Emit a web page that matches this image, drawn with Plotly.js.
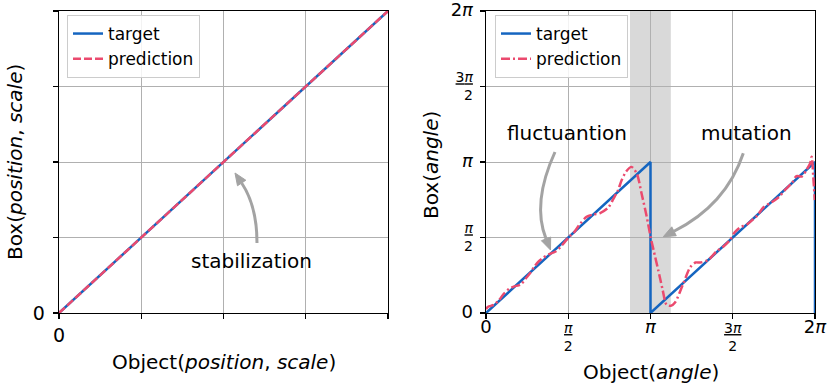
<!DOCTYPE html>
<html><head><meta charset="utf-8">
<script src="https://cdn.plot.ly/plotly-3.0.1.min.js"></script>
<style>html,body{margin:0;padding:0;background:#fff;} #chart{width:829px;height:386px;}</style>
</head><body><div id="chart"></div>
<script>
// ---------------- data ----------------
const seriesNames = ['target', 'prediction'];
// left panel: position / scale (normalized)
const posX = [0, 1];
const posTarget = [0, 1];
const posPrediction = [0, 1];
const posTickVals = [0, 0.25, 0.5, 0.75, 1];
const posTickText = ['0', '', '', '', ''];
// right panel: angle
const angleTargetX = [0, 3.1416, 3.1416, 6.2832, 6.2832];
const angleTargetY = [0, 3.1416, 0, 3.1416, 0];
const anglePredX = [0.00, 0.04, 0.15, 0.25, 0.34, 0.44, 0.53, 0.66, 0.76, 0.85, 0.92, 1.01, 1.08, 1.20, 1.33, 1.42, 1.49, 1.59, 1.67, 1.80, 1.92, 2.05, 2.18, 2.34, 2.43, 2.52, 2.59, 2.68, 2.78, 2.88, 2.97, 3.07, 3.14, 3.20, 3.29, 3.37, 3.45, 3.53, 3.61, 3.77, 3.90, 4.00, 4.09, 4.24, 4.40, 4.53, 4.66, 4.75, 4.85, 4.98, 5.10, 5.19, 5.30, 5.45, 5.60, 5.71, 5.84, 5.93, 6.03, 6.12, 6.19, 6.22, 6.25, 6.28];
const anglePredY = [0.08, 0.13, 0.17, 0.27, 0.40, 0.50, 0.55, 0.59, 0.72, 0.84, 0.96, 1.08, 1.14, 1.22, 1.28, 1.37, 1.46, 1.59, 1.66, 1.86, 2.00, 2.05, 2.08, 2.20, 2.37, 2.55, 2.76, 2.95, 3.04, 2.90, 2.49, 2.00, 1.60, 1.31, 0.89, 0.50, 0.17, 0.15, 0.22, 0.62, 0.95, 1.05, 1.05, 1.10, 1.28, 1.38, 1.52, 1.68, 1.78, 1.84, 1.95, 2.04, 2.20, 2.30, 2.42, 2.56, 2.70, 2.85, 2.84, 2.98, 3.11, 3.25, 2.84, 2.35];
const angleTickVals = [0, Math.PI / 2, Math.PI, 3 * Math.PI / 2, 2 * Math.PI];
const angleTickText = ['0', 'π/2', 'π', '3π/2', '2π'];
const mutationBand = [2.75, 3.53];

// ---------------- styling ----------------
const FONT = 'DejaVu Sans, Liberation Sans, sans-serif';
const BLUE = '#1565C0';
const RED = '#EB4A6E';
const ARROW = '#A3A3A3';
const W = 829, H = 386, ML = 59, MR = 14, MT = 11, MB = 73;
const PW = W - ML - MR, PH = H - MT - MB;

function fracLabel(t) {
  const big = s => '<span style="font-size:18px">' + s + '</span>';
  if (t.indexOf('/') < 0) {
    return big(t.replace('π', '<i>π</i>'));
  }
  const [num, den] = t.split('/');
  return '<u>' + num.replace('π', '<i>π</i>') + '</u><br>' + den;
}
const angleTickLabels = angleTickText.map(fracLabel);

const traces = [
  {x: posX, y: posTarget, type: 'scatter', mode: 'lines', name: seriesNames[0],
   line: {color: BLUE, width: 2.5}, xaxis: 'x', yaxis: 'y', legend: 'legend'},
  {x: posX, y: posPrediction, type: 'scatter', mode: 'lines', name: seriesNames[1],
   line: {color: RED, width: 2.5, dash: '8px,3px'}, xaxis: 'x', yaxis: 'y', legend: 'legend'},
  {x: angleTargetX, y: angleTargetY, type: 'scatter', mode: 'lines', name: seriesNames[0],
   line: {color: BLUE, width: 2.5}, xaxis: 'x2', yaxis: 'y2', legend: 'legend2'},
  {x: anglePredX, y: anglePredY, type: 'scatter', mode: 'lines', name: seriesNames[1],
   line: {color: RED, width: 2.5, dash: '9px,3px,2px,3px', shape: 'spline', smoothing: 0.8},
   xaxis: 'x2', yaxis: 'y2', legend: 'legend2'}
];

const axBase = {
  showgrid: true, gridcolor: '#b0b0b0', gridwidth: 1,
  showline: true, mirror: true, linecolor: '#000', linewidth: 1.25,
  ticks: 'outside', ticklen: 5, tickwidth: 1.25, tickcolor: '#000',
  zeroline: false, fixedrange: true, ticklabeloverflow: 'allow',
  tickfont: {family: FONT, size: 19, color: '#000'}, tickmode: 'array'
};

function P(px, py) { return [(px - ML) / PW, (H - MB - py) / PH]; }
function fmt(p) { const q = P(p[0], p[1]); return q[0].toFixed(5) + ',' + q[1].toFixed(5); }
function curvedArrow(s, c, e, headLen, headW) {
  const dx = e[0] - c[0], dy = e[1] - c[1];
  const L = Math.hypot(dx, dy), ux = dx / L, uy = dy / L;
  const base = [e[0] - ux * headLen, e[1] - uy * headLen];
  const nx = -uy, ny = ux;
  const b1 = [base[0] + nx * headW / 2, base[1] + ny * headW / 2];
  const b2 = [base[0] - nx * headW / 2, base[1] - ny * headW / 2];
  return [
    {type: 'path', xref: 'paper', yref: 'paper', layer: 'above',
     path: 'M' + fmt(s) + ' Q' + fmt(c) + ' ' + fmt(base), line: {color: ARROW, width: 3}},
    {type: 'path', xref: 'paper', yref: 'paper', layer: 'above',
     path: 'M' + fmt(e) + ' L' + fmt(b1) + ' L' + fmt(b2) + ' Z',
     fillcolor: ARROW, line: {color: ARROW, width: 1}}
  ];
}
function label(text, px, py, angle) {
  const q = P(px, py);
  return {text: text, x: q[0], y: q[1], xref: 'paper', yref: 'paper', showarrow: false,
          xanchor: 'center', yanchor: 'middle', textangle: angle || 0,
          font: {family: FONT, size: 20, color: '#000'}};
}

const shapes = [
  {type: 'rect', xref: 'x2', yref: 'paper', x0: mutationBand[0], x1: mutationBand[1], y0: 0, y1: 1,
   fillcolor: '#d9d9d9', line: {width: 0}, layer: 'below'}
].concat(
  curvedArrow([257, 243], [257, 206], [235, 173], 12, 10),
  curvedArrow([555, 152], [531.7, 203], [550.5, 250], 12, 10),
  curvedArrow([743.3, 153.3], [726, 205], [663.3, 236.7], 12, 10)
);

const legendBase = {
  bgcolor: 'rgba(255,255,255,0.85)', bordercolor: '#cccccc', borderwidth: 1,
  font: {family: FONT, size: 17, color: '#000'}, xanchor: 'left', yanchor: 'top',
  tracegroupgap: 0, itemwidth: 30
};

const layout = {
  width: W, height: H, margin: {l: ML, r: MR, t: MT, b: MB, pad: 0},
  paper_bgcolor: '#fff', plot_bgcolor: '#fff', showlegend: true,
  xaxis: Object.assign({}, axBase, {domain: [0, 329 / PW], range: [0, 1], anchor: 'y',
          tickvals: posTickVals, ticktext: posTickText}),
  yaxis: Object.assign({}, axBase, {domain: [0, 1], range: [0, 1], anchor: 'x',
          tickvals: posTickVals, ticktext: posTickText, ticklabelstandoff: 4}),
  xaxis2: Object.assign({}, axBase, {domain: [(486 - ML) / PW, 1], range: [0, 2 * Math.PI], anchor: 'y2',
          tickvals: angleTickVals, ticktext: angleTickLabels, ticklabelstandoff: -3,
          tickfont: {family: FONT, size: 14, color: '#000'}}),
  yaxis2: Object.assign({}, axBase, {domain: [0, 1], range: [0, 2 * Math.PI], anchor: 'x2',
          tickvals: angleTickVals, ticktext: angleTickLabels, ticklabelstandoff: 4,
          tickfont: {family: FONT, size: 14, color: '#000'}}),
  legend: Object.assign({}, legendBase, {x: P(67, 15)[0], y: P(67, 15)[1]}),
  legend2: Object.assign({}, legendBase, {x: P(495, 15)[0], y: P(495, 15)[1]}),
  shapes: shapes,
  annotations: [
    label('stabilization', 251.7, 261),
    label('fluctuantion', 566.7, 133),
    label('mutation', 746.7, 133),
    label('Object(<i>position</i>, <i>scale</i>)', 224, 362),
    label('Object(<i>angle</i>)', 651, 372),
    label('Box(<i>position</i>, <i>scale</i>)', 15, 162, -90),
    label('Box(<i>angle</i>)', 431, 165, -90)
  ]
};

Plotly.newPlot('chart', traces, layout, {displayModeBar: false, staticPlot: true});
</script>
</body></html>
